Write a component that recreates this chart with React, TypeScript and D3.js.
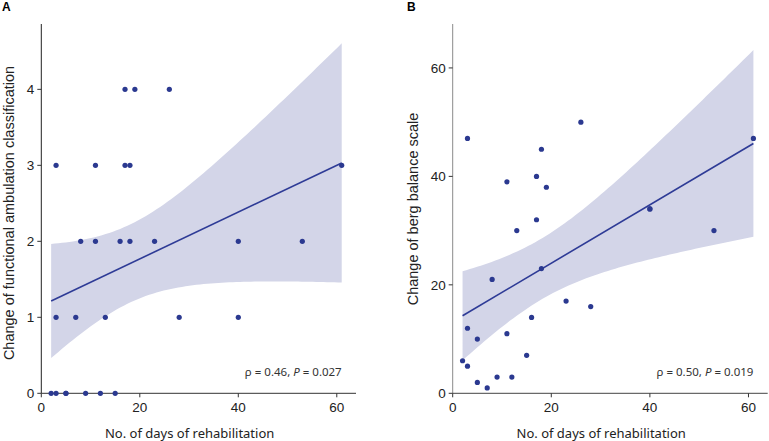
import React from "react";
import * as d3 from "d3";

// Panel A: days of rehabilitation vs change of FAC
const daysA = [17, 19, 26, 3, 11, 17, 18, 61, 8, 11, 16, 18, 23, 40, 53, 3, 7, 13, 28, 40, 2, 3, 5, 9, 12, 15, 5];
const facA = [4, 4, 4, 3, 3, 3, 3, 3, 2, 2, 2, 2, 2, 2, 2, 1, 1, 1, 1, 1, 0, 0, 0, 0, 0, 0, 0];

// Panel B: days of rehabilitation vs change of Berg balance scale
const daysB = [3, 26, 18, 17, 11, 19, 61, 40, 17, 13, 53, 18, 8, 23, 28, 16, 3, 11, 5, 15, 2, 3, 9, 12, 5, 7, 40];
const bbsB = [47, 50, 45, 40, 39, 38, 47, 34, 32, 30, 30, 23, 21, 17, 16, 14, 12, 11, 10, 7, 6, 5, 3, 3, 2, 1, 34];

const ticksXLabels = [0, 20, 40, 60];
const ticksYA = [0, 1, 2, 3, 4];
const ticksYB = [0, 20, 40, 60];

const annotA = { rho: "0.46", p: "0.027" };
const annotB = { rho: "0.50", p: "0.019" };

const BAND = "#d3d5e8";
const LINE = "#2e3b96";
const DOT = "#2b3990";

function fit(xs: number[], ys: number[], tCrit: number) {
  const n = xs.length;
  const mx = d3.mean(xs)!;
  const my = d3.mean(ys)!;
  let sxx = 0, sxy = 0;
  xs.forEach((x, i) => { sxx += (x - mx) ** 2; sxy += (x - mx) * (ys[i] - my); });
  const b = sxy / sxx;
  const a = my - b * mx;
  let sse = 0;
  xs.forEach((x, i) => { sse += (ys[i] - a - b * x) ** 2; });
  const s = Math.sqrt(sse / (n - 2));
  const lo = d3.min(xs)!, hi = d3.max(xs)!;
  return d3.range(0, 81).map((k) => {
    const x = lo + ((hi - lo) * k) / 80;
    const yh = a + b * x;
    const se = s * Math.sqrt(1 / n + (x - mx) ** 2 / sxx);
    return { x, y: yh, lo: yh - tCrit * se, hi: yh + tCrit * se };
  });
}

type PanelProps = {
  xs: number[]; ys: number[]; x0: number; x1: number; yDomMax: number;
  yTicks: number[]; yLabel: string; yLabelX: number; letter: string; letterX: number;
  annot: { rho: string; p: string }; yAxisColor: string; xAxisColor: string; yLabelCy: number;
};

function Panel(props: PanelProps) {
  const { xs, ys, x0, x1, yDomMax, yTicks, yLabel, yLabelX, letter, letterX, annot, yAxisColor, xAxisColor, yLabelCy } = props;
  const yTop = 24, yBot = 393.3;
  const x = d3.scaleLinear().domain([0, 63.9]).range([x0, x1]);
  const y = d3.scaleLinear().domain([0, yDomMax]).range([yBot, yTop]);
  const pts = fit(xs, ys, 2.0595);
  const area = d3.area<any>().x((d) => x(d.x)).y0((d) => y(d.lo)).y1((d) => y(d.hi));
  const line = d3.line<any>().x((d) => x(d.x)).y((d) => y(d.y));
  const tickFont = "'Liberation Sans', Arial, sans-serif";
  return (
    <g>
      <text x={letterX} y={11} fontSize={12} fontWeight="bold" fontFamily="'Liberation Sans', Arial, sans-serif">{letter}</text>
      <path d={area(pts)!} fill={BAND} />
      <path d={line([pts[0], pts[pts.length - 1]])!} stroke={LINE} strokeWidth={1.6} fill="none" />
      <line x1={x0} x2={x0} y1={yTop} y2={yBot} stroke={yAxisColor} strokeWidth={1} />
      <line x1={x0} x2={x1} y1={yBot} y2={yBot} stroke={xAxisColor} strokeWidth={1} />
      {yTicks.map((t) => (
        <g key={"y" + t}>
          <line x1={x0 - 4} x2={x0} y1={y(t)} y2={y(t)} stroke="#333" />
          <text x={x0 - 7} y={y(t)} dy="0.35em" textAnchor="end" fontSize={13.5} fill="#222" fontFamily={tickFont}>{t}</text>
        </g>
      ))}
      {ticksXLabels.map((t) => (
        <g key={"x" + t}>
          <line x1={x(t)} x2={x(t)} y1={yBot} y2={yBot + 4} stroke="#333" />
          <text x={x(t)} y={yBot + 19} textAnchor="middle" fontSize={13.5} fill="#222" fontFamily={tickFont}>{t}</text>
        </g>
      ))}
      {xs.map((xv, i) => (
        <circle key={i} cx={x(xv)} cy={y(ys[i])} r={2.6} fill={DOT} />
      ))}
      <text x={x(61)} y={375.5} textAnchor="end" fontSize={11.5} fill="#333" fontFamily="'Noto Sans', sans-serif">
        {"ρ = " + annot.rho + ", "}<tspan fontStyle="italic">P</tspan>{" = " + annot.p}
      </text>
      <text x={(x0 + x1) / 2 - 9} y={438} textAnchor="middle" fontSize={13} fill="#222" fontFamily="'Noto Sans', sans-serif">No. of days of rehabilitation</text>
      <text transform={`translate(${yLabelX},${yLabelCy}) rotate(-90)`} textAnchor="middle" fontSize={14.5} fill="#222" fontFamily={tickFont}>{yLabel}</text>
    </g>
  );
}

export default function App() {
  return (
    <svg width={769} height={441} style={{ position: "absolute", left: 0, top: 0, background: "#fff" }}>
      <Panel xs={daysA} ys={facA} x0={41.3} x1={356} yDomMax={4.86} yTicks={ticksYA}
        yLabel="Change of functional ambulation classification" yLabelX={13.5} yLabelCy={213}
        letter="A" letterX={2} annot={annotA} yAxisColor="#222" xAxisColor="#333" />
      <Panel xs={daysB} ys={bbsB} x0={452.7} x1={767.7} yDomMax={68.1} yTicks={ticksYB}
        yLabel="Change of berg balance scale" yLabelX={418} yLabelCy={209}
        letter="B" letterX={407} annot={annotB} yAxisColor="#8a8a8a" xAxisColor="#444" />
    </svg>
  );
}
